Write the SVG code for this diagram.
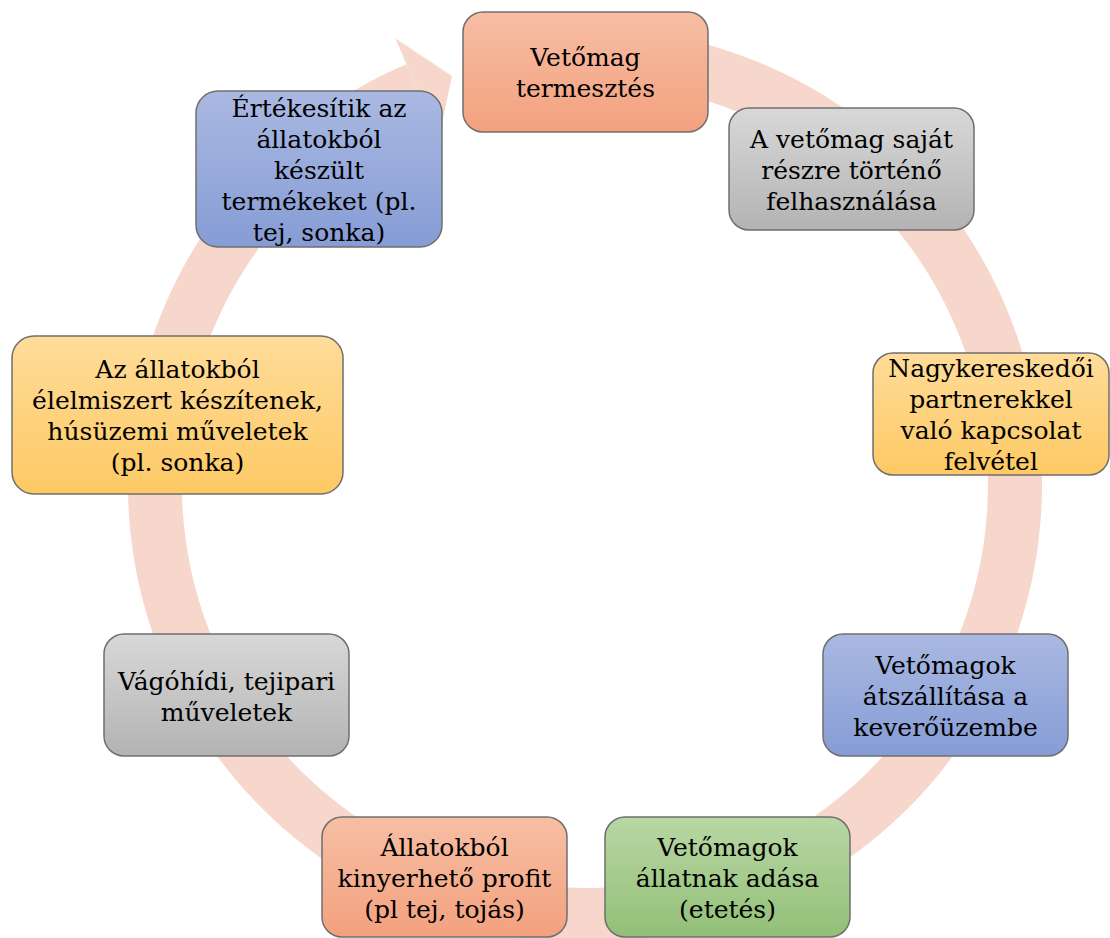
<svg xmlns="http://www.w3.org/2000/svg" width="1110" height="938" viewBox="0 0 1110 938">
<defs>
<linearGradient id="gSalmon" x1="0" y1="0" x2="0" y2="1"><stop offset="0" stop-color="#f7bea4"/><stop offset="1" stop-color="#f3a17e"/></linearGradient>
<linearGradient id="gGray" x1="0" y1="0" x2="0" y2="1"><stop offset="0" stop-color="#d8d8d8"/><stop offset="1" stop-color="#b3b3b3"/></linearGradient>
<linearGradient id="gYellow" x1="0" y1="0" x2="0" y2="1"><stop offset="0" stop-color="#ffdc99"/><stop offset="1" stop-color="#fdc964"/></linearGradient>
<linearGradient id="gBlue" x1="0" y1="0" x2="0" y2="1"><stop offset="0" stop-color="#aab9e2"/><stop offset="1" stop-color="#869cd5"/></linearGradient>
<linearGradient id="gGreen" x1="0" y1="0" x2="0" y2="1"><stop offset="0" stop-color="#b8d7a4"/><stop offset="1" stop-color="#93bf77"/></linearGradient>
</defs>
<style>
.box{stroke:#6f6f6f;stroke-width:1.5}
.t{font-family:"DejaVu Serif","Liberation Serif",serif;font-size:25px;fill:#000;text-anchor:middle}
.ring{fill:#f7d7cc}
</style>
<g id="connectors">
<path class="ring" d="M 624.8 29.7 A 457 457 0 1 1 406.4 64.3 L 427.5 114.0 A 403 403 0 1 0 620.1 83.5 Z"/>
<polygon class="ring" points="395.5,38.6 452,76 438.5,139.8"/>
</g>
<g id="n1"><rect class="box" x="463" y="12" width="245" height="120" rx="20" fill="url(#gSalmon)"/>
<text class="t" x="585.5"><tspan x="585.5" y="66">Vetőmag</tspan><tspan x="585.5" y="97">termesztés</tspan></text></g>
<g id="n2"><rect class="box" x="729" y="108" width="245" height="122" rx="20" fill="url(#gGray)"/>
<text class="t"><tspan x="851.5" y="148">A vetőmag saját</tspan><tspan x="851.5" y="179">részre történő</tspan><tspan x="851.5" y="210">felhasználása</tspan></text></g>
<g id="n3"><rect class="box" x="873" y="353" width="236" height="122" rx="20" fill="url(#gYellow)"/>
<text class="t"><tspan x="991" y="377">Nagykereskedői</tspan><tspan x="991" y="408">partnerekkel</tspan><tspan x="991" y="439">való kapcsolat</tspan><tspan x="991" y="470">felvétel</tspan></text></g>
<g id="n4"><rect class="box" x="823" y="634" width="245" height="122" rx="20" fill="url(#gBlue)"/>
<text class="t"><tspan x="945.5" y="674">Vetőmagok</tspan><tspan x="945.5" y="705">átszállítása a</tspan><tspan x="945.5" y="736">keverőüzembe</tspan></text></g>
<g id="n5"><rect class="box" x="605" y="817" width="245" height="120" rx="20" fill="url(#gGreen)"/>
<text class="t"><tspan x="727.5" y="856">Vetőmagok</tspan><tspan x="727.5" y="887">állatnak adása</tspan><tspan x="727.5" y="918">(etetés)</tspan></text></g>
<g id="n6"><rect class="box" x="322" y="817" width="245" height="120" rx="20" fill="url(#gSalmon)"/>
<text class="t"><tspan x="444.5" y="856">Állatokból</tspan><tspan x="444.5" y="887">kinyerhető profit</tspan><tspan x="444.5" y="918">(pl tej, tojás)</tspan></text></g>
<g id="n7"><rect class="box" x="104" y="634" width="245" height="122" rx="20" fill="url(#gGray)"/>
<text class="t"><tspan x="226.5" y="690">Vágóhídi, tejipari</tspan><tspan x="226.5" y="721">műveletek</tspan></text></g>
<g id="n8"><rect class="box" x="12" y="336" width="331" height="158" rx="22" fill="url(#gYellow)"/>
<text class="t"><tspan x="177.5" y="378">Az állatokból</tspan><tspan x="177.5" y="409">élelmiszert készítenek,</tspan><tspan x="177.5" y="440">húsüzemi műveletek</tspan><tspan x="177.5" y="471">(pl. sonka)</tspan></text></g>
<g id="n9"><rect class="box" x="196" y="91" width="246" height="156" rx="22" fill="url(#gBlue)"/>
<text class="t"><tspan x="319" y="117">Értékesítik az</tspan><tspan x="319" y="148">állatokból</tspan><tspan x="319" y="179">készült</tspan><tspan x="319" y="210">termékeket (pl.</tspan><tspan x="319" y="241">tej, sonka)</tspan></text></g>
</svg>
